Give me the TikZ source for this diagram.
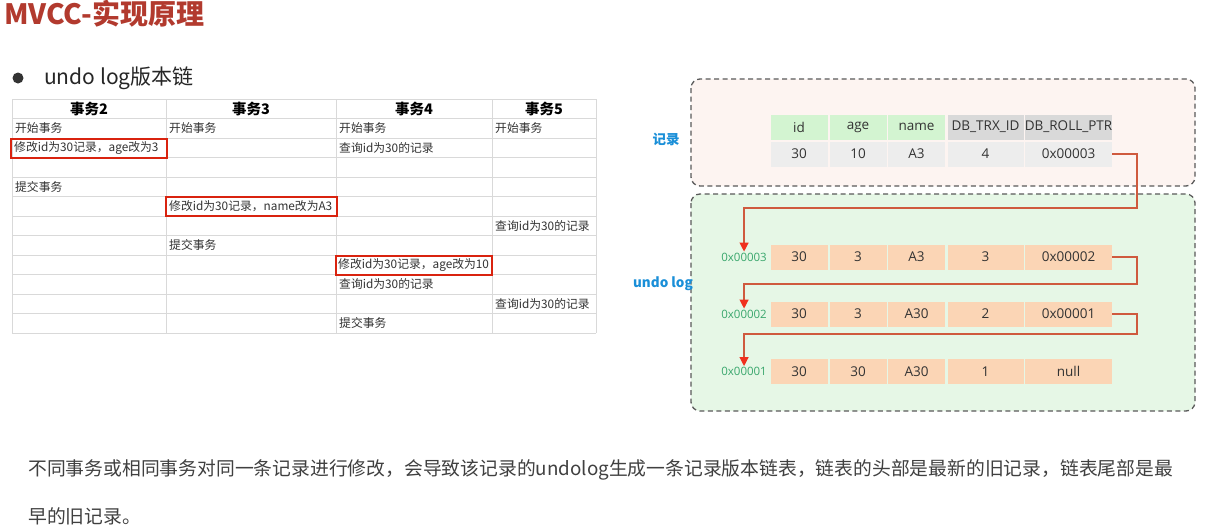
\documentclass[tikz,border=0pt]{standalone}
\usepackage{fontspec}
\setmainfont{Noto Sans CJK SC}
\newfontfamily\osans{Open Sans}
\usetikzlibrary{arrows.meta}
\definecolor{titlered}{HTML}{B23A2E}
\definecolor{gridgray}{HTML}{D9D9D9}
\definecolor{boxred}{HTML}{D9230F}
\definecolor{txt}{HTML}{333333}
\definecolor{labblue}{HTML}{1A8FD8}
\definecolor{addrgreen}{HTML}{3AA76D}
\definecolor{hdrgreen}{HTML}{D3F4D1}
\definecolor{hdrgray}{HTML}{D9D9D9}
\definecolor{datagray}{HTML}{EDEDED}
\definecolor{peach}{HTML}{FBD5B5}
\definecolor{pinkbg}{HTML}{FDF4F1}
\definecolor{greenbg}{HTML}{E6F7E6}
\definecolor{linkcol}{HTML}{CF5A3E}
\definecolor{tipred}{HTML}{F0301E}
\definecolor{dashcol}{HTML}{5A5A5A}
\tikzset{
  tcell/.style={anchor=west,inner sep=0pt,font=\fontsize{11.8}{14}\selectfont,text=txt},
  thead/.style={anchor=center,inner sep=0pt,font=\fontsize{14.5}{16}\selectfont\bfseries,text=black},
  redbox/.style={draw=boxred,line width=2pt},
  gridline/.style={draw=gridgray,line width=1pt},
  dcell/.style={inner sep=0pt,minimum height=25pt,font=\osans\fontsize{13.5}{15}\selectfont,text=txt,anchor=center},
  grp/.style={draw=dashcol,line width=1.3pt,dash pattern=on 5pt off 3.5pt,rounded corners=9pt},
  addr/.style={anchor=east,inner sep=1pt,font=\osans\fontsize{11.5}{13}\selectfont,text=addrgreen},
  side/.style={font=\fontsize{13.5}{15}\selectfont\bfseries,text=labblue,inner sep=0pt},
  link/.style={draw=linkcol,line width=1.2pt,-{Triangle[width=9pt,length=9pt,color=tipred]}},
}
\begin{document}
\begin{tikzpicture}[x=1pt,y=-1pt]
\useasboundingbox[fill=white] (0,0) rectangle (1218,530);
% title
\node[anchor=west,inner sep=0pt,font=\fontsize{28}{30}\selectfont\bfseries,text=titlered] (title) at (4,14) {MVCC-实现原理};
\fill[txt] (18,78) circle (5.5);
\node[anchor=west,inner sep=0pt,font=\fontsize{21}{24}\selectfont,text=black!85] (sub) at (44,78) {undo log版本链};
% table grid
\foreach \y in {99,118.5,138,157.5,177,196.5,216,235.5,255,274.5,294,313.5,333}
  \draw[gridline] (12,\y) -- (596,\y);
\foreach \x in {12,166,336,492,596}
  \draw[gridline] (\x,99) -- (\x,333);
\node[thead] (h2) at (89,109) {事务2};
\node[thead] (h3) at (251,109) {事务3};
\node[thead] (h4) at (414,109) {事务4};
\node[thead] (h5) at (544,109) {事务5};
% rows
\node[tcell] (c11) at (15,128.25) {开始事务};
\node[tcell] (c12) at (169,128.25) {开始事务};
\node[tcell] (c13) at (339,128.25) {开始事务};
\node[tcell] (c14) at (495,128.25) {开始事务};
\node[tcell] (c21) at (14,147.75) {修改id为30记录，age改为3};
\node[tcell] (c23) at (339,147.75) {查询id为30的记录};
\node[tcell] (c41) at (15,186.75) {提交事务};
\node[tcell] (c52) at (169,206.25) {修改id为30记录，name改为A3};
\node[tcell] (c64) at (495,225.75) {查询id为30的记录};
\node[tcell] (c72) at (169,245.25) {提交事务};
\node[tcell] (c83) at (338,264.75) {修改id为30记录，age改为10};
\node[tcell] (c93) at (339,284.25) {查询id为30的记录};
\node[tcell] (c104) at (495,303.75) {查询id为30的记录};
\node[tcell] (c113) at (339,323.25) {提交事务};
\draw[redbox] (11,138.5) rectangle (167,157.5);
\draw[redbox] (166,197) rectangle (337,216);
\draw[redbox] (335.5,255.5) rectangle (491.5,274.5);
% group boxes
\draw[grp,fill=pinkbg] (691,79) rectangle (1195,186);
\draw[grp,fill=greenbg] (691,194) rectangle (1195,411);
\node[side] (lrec) at (666,139) {记录};
\node[side] (lundo) at (663,284) {undo log};
% record table
\node[dcell,fill=hdrgreen,minimum width=57pt] (rh1) at (799,127) {id};
\node[dcell,fill=hdrgreen,minimum width=57pt] (rh2) at (858,127) {age};
\node[dcell,fill=hdrgreen,minimum width=57pt] (rh3) at (916.5,127) {name};
\node[dcell,fill=hdrgray,minimum width=76pt] (rh4) at (985.5,127) {DB\_TRX\_ID};
\node[dcell,fill=hdrgray,minimum width=87pt] (rh5) at (1068.5,127) {DB\_ROLL\_PTR};
\node[dcell,fill=datagray,minimum width=57pt] (r1) at (799,154) {30};
\node[dcell,fill=datagray,minimum width=57pt] (r2) at (858,154) {10};
\node[dcell,fill=datagray,minimum width=57pt] (r3) at (916.5,154) {A3};
\node[dcell,fill=datagray,minimum width=76pt] (r4) at (985.5,154) {4};
\node[dcell,fill=datagray,minimum width=87pt] (r5) at (1068.5,154) {0x00003};
% undo rows
\node[dcell,fill=peach,minimum width=57pt] (a1) at (799,257) {30};
\node[dcell,fill=peach,minimum width=57pt] (a2) at (858,257) {3};
\node[dcell,fill=peach,minimum width=57pt] (a3) at (916.5,257) {A3};
\node[dcell,fill=peach,minimum width=76pt] (a4) at (985.5,257) {3};
\node[dcell,fill=peach,minimum width=87pt] (a5) at (1068.5,257) {0x00002};
\node[dcell,fill=peach,minimum width=57pt] (b1) at (799,314) {30};
\node[dcell,fill=peach,minimum width=57pt] (b2) at (858,314) {3};
\node[dcell,fill=peach,minimum width=57pt] (b3) at (916.5,314) {A30};
\node[dcell,fill=peach,minimum width=76pt] (b4) at (985.5,314) {2};
\node[dcell,fill=peach,minimum width=87pt] (b5) at (1068.5,314) {0x00001};
\node[dcell,fill=peach,minimum width=57pt] (e1) at (799,371.5) {30};
\node[dcell,fill=peach,minimum width=57pt] (e2) at (858,371.5) {30};
\node[dcell,fill=peach,minimum width=57pt] (e3) at (916.5,371.5) {A30};
\node[dcell,fill=peach,minimum width=76pt] (e4) at (985.5,371.5) {1};
\node[dcell,fill=peach,minimum width=87pt] (e5) at (1068.5,371.5) {null};
% addresses
\node[addr] (ad3) at (768,257) {0x00003};
\node[addr] (ad2) at (768,314) {0x00002};
\node[addr] (ad1) at (768,371.5) {0x00001};
% links
\coordinate (t1) at (1137,208);
\coordinate (t2) at (1137,284);
\coordinate (t3) at (1137,334);
\draw[link] (r5.east) -| (t1) -| (ad3.north);
\draw[link] (a5.east) -| (t2) -| (ad2.north);
\draw[link] (b5.east) -| (t3) -| (ad1.north);
% bottom text
\node[anchor=west,inner sep=0pt,font=\fontsize{18.8}{20}\selectfont,text=black!75] (desc1) at (28,470) {不同事务或相同事务对同一条记录进行修改，会导致该记录的undolog生成一条记录版本链表，链表的头部是最新的旧记录，链表尾部是最};
\node[anchor=west,inner sep=0pt,font=\fontsize{18.8}{20}\selectfont,text=black!75] (desc2) at (28,516) {早的旧记录。};
\end{tikzpicture}
\end{document}
